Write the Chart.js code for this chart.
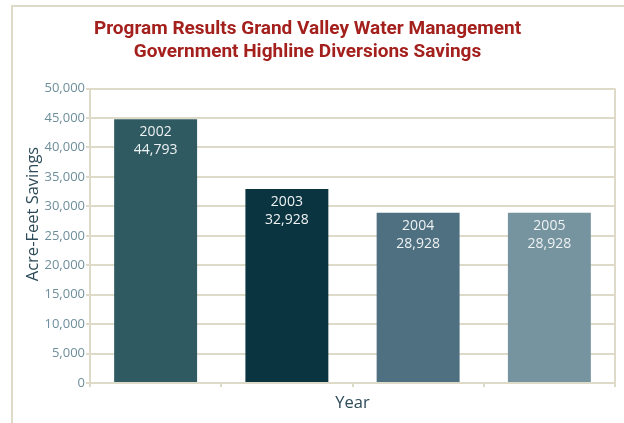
<!DOCTYPE html>
<html>
<head>
<meta charset="utf-8">
<script src="https://cdn.jsdelivr.net/npm/chart.js@4.4.1/dist/chart.umd.min.js"></script>
<style>
  html, body { margin: 0; padding: 0; background: #fff; }
  #wrap { width: 624px; height: 423px; position: relative; }
</style>
</head>
<body>
<div id="wrap"><canvas id="chart" width="624" height="423"></canvas></div>
<script>
const years = ['2002', '2003', '2004', '2005'];
const savings = [44793, 32928, 28928, 28928];
const barColors = ['#2f5a61', '#0b3441', '#4e7080', '#7694a0'];
const yTicks = [0, 5000, 10000, 15000, 20000, 25000, 30000, 35000, 40000, 45000, 50000];
const titleLines = ['Program Results Grand Valley Water Management', 'Government Highline Diversions Savings'];

const beige = '#dedac8';

// frame, right border, y title and bar labels
const extras = {
  id: 'extras',
  beforeDraw(chart) {
    const ctx = chart.ctx;
    ctx.save();
    ctx.strokeStyle = beige;
    ctx.lineWidth = 2;
    ctx.beginPath();
    ctx.moveTo(12, 430);
    ctx.lineTo(12, 6);
    ctx.lineTo(630, 6);
    ctx.stroke();
    ctx.restore();
  },
  afterDatasetsDraw(chart) {
    const ctx = chart.ctx;
    const area = chart.chartArea;
    ctx.save();
    ctx.strokeStyle = beige;
    ctx.lineWidth = 2;
    ctx.beginPath();
    ctx.moveTo(area.right, area.top);
    ctx.lineTo(area.right, area.bottom + 4);
    ctx.stroke();

    // y axis title
    ctx.translate(33, 214);
    ctx.rotate(-Math.PI / 2);
    ctx.fillStyle = '#2c4a57';
    ctx.font = '16.5px "Open Sans", sans-serif';
    ctx.textAlign = 'center';
    ctx.textBaseline = 'middle';
    ctx.fillText('Acre-Feet Savings', 0, 0);
    ctx.restore();

    const meta = chart.getDatasetMeta(0);
    ctx.save();
    ctx.fillStyle = '#eef2f3';
    ctx.font = '14px "Open Sans", sans-serif';
    ctx.textAlign = 'center';
    ctx.textBaseline = 'middle';
    meta.data.forEach((bar, i) => {
      ctx.fillText(years[i], bar.x, bar.y + 13);
      ctx.fillText(savings[i].toLocaleString('en-US'), bar.x, bar.y + 31);
    });
    ctx.restore();
  }
};

new Chart(document.getElementById('chart'), {
  type: 'bar',
  data: {
    labels: years,
    datasets: [{
      data: savings,
      backgroundColor: barColors,
      barPercentage: 0.632,
      categoryPercentage: 1
    }]
  },
  options: {
    responsive: false,
    animation: false,
    layout: { padding: { left: 0, right: 9, top: 0, bottom: 0 } },
    plugins: {
      legend: { display: false },
      tooltip: { enabled: false },
      title: {
        display: true,
        text: titleLines,
        color: '#a3201d',
        font: { family: '"Roboto", sans-serif', size: 19, weight: 'bold', lineHeight: 1.2 },
        padding: { top: 18, bottom: 25 }
      }
    },
    scales: {
      x: {
        afterFit(scale) { scale.height = 40; },
        grid: { display: true, offset: true, drawOnChartArea: false, color: beige, lineWidth: 2, tickLength: 4 },
        border: { color: beige, width: 2 },
        ticks: { display: false },
        title: {
          display: true,
          text: 'Year',
          color: '#2c4a57',
          font: { family: '"Open Sans", sans-serif', size: 16.5, lineHeight: 1.2 },
          padding: { top: 0, bottom: 10 }
        }
      },
      y: {
        min: 0,
        max: 50000,
        afterFit(scale) { scale.width = 90; },
        afterBuildTicks(scale) { scale.ticks = yTicks.map(v => ({ value: v })); },
        grid: { color: beige, lineWidth: 2, tickLength: 4 },
        border: { color: beige, width: 2 },
        ticks: {
          color: '#6d8e9b',
          padding: 1,
          font: { family: '"Open Sans", sans-serif', size: 13 },
          callback: v => v.toLocaleString('en-US')
        }
      }
    }
  },
  plugins: [extras]
});
</script>
</body>
</html>
